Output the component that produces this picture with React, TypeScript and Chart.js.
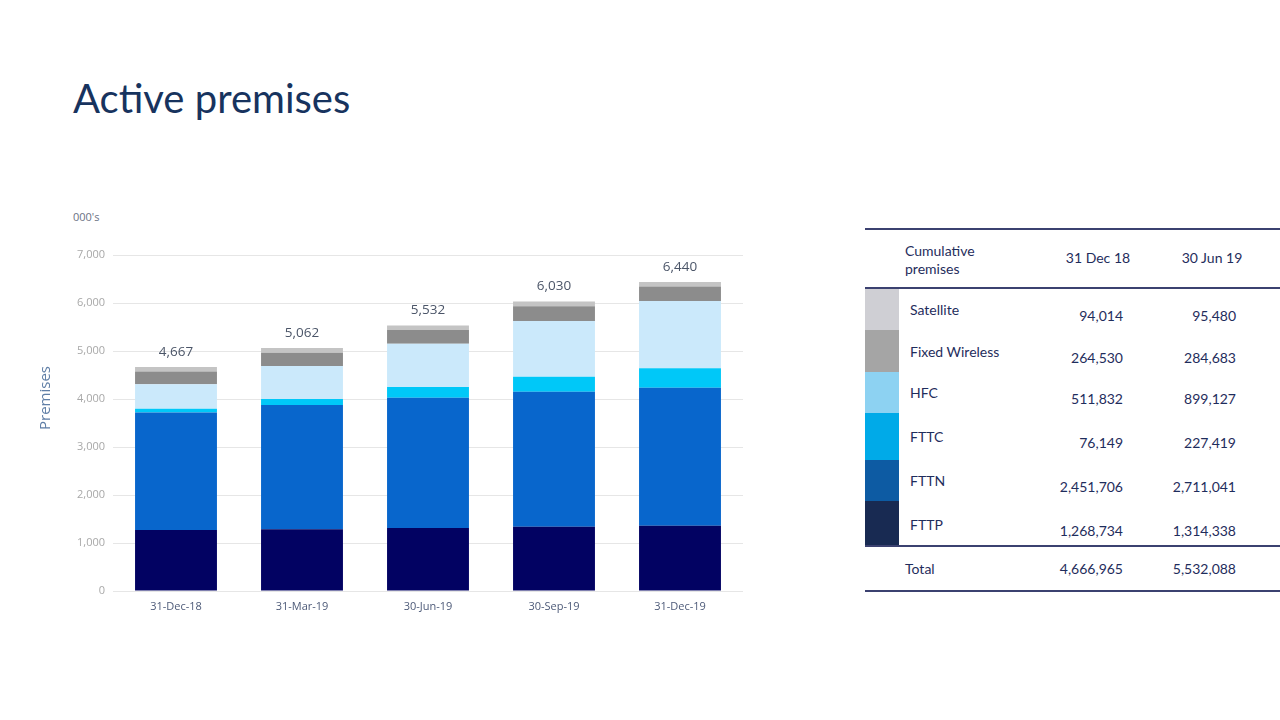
import React, { useEffect, useRef } from "react";
import { Chart, registerables } from "chart.js";

Chart.register(...registerables);

const categories = ["31-Dec-18", "31-Mar-19", "30-Jun-19", "30-Sep-19", "31-Dec-19"];
const fttp = [1269, 1285, 1314, 1340, 1361];
const fttn = [2452, 2590, 2711, 2813, 2875];
const fttc = [76, 125, 227, 312, 403];
const hfc = [512, 687, 899, 1160, 1403];
const fixedWireless = [265, 278, 285, 308, 302];
const satellite = [94, 97, 95, 97, 96];
const totals = [4667, 5062, 5532, 6030, 6440];
const yTicks = [0, 1000, 2000, 3000, 4000, 5000, 6000, 7000];

const tableTitle = ["Cumulative", "premises"];
const tableColumns = ["31 Dec 18", "30 Jun 19"];
const tableRows = ["Satellite", "Fixed Wireless", "HFC", "FTTC", "FTTN", "FTTP"];
const tableDec18 = ["94,014", "264,530", "511,832", "76,149", "2,451,706", "1,268,734"];
const tableJun19 = ["95,480", "284,683", "899,127", "227,419", "2,711,041", "1,314,338"];
const tableTotals = ["4,666,965", "5,532,088"];

const seriesNames = ["FTTP", "FTTN", "FTTC", "HFC", "Fixed Wireless", "Satellite"];
const seriesColors = ["#020262", "#0866cc", "#00c8f8", "#cbe9fb", "#8c8c8c", "#c4c4c4"];
const swatchColors = ["#cfcfd4", "#a5a5a5", "#8dd2f2", "#00aae8", "#0d5ba3", "#182a52"];
const rowHeights = [41, 42, 41, 47, 41, 46];

const CHART_FONT = "'Open Sans', sans-serif";
const TEXT_NAVY = "#1f2d5c";

const totalsPlugin = {
  id: "totalsPlugin",
  afterDatasetsDraw(chart: any) {
    const ctx = chart.ctx;
    const x = chart.scales.x;
    const y = chart.scales.y;
    ctx.save();
    ctx.font = `13.5px ${CHART_FONT}`;
    ctx.fillStyle = "#4b5568";
    ctx.textAlign = "center";
    ctx.textBaseline = "middle";
    totals.forEach((t, i) => {
      ctx.fillText(t.toLocaleString("en-US"), x.getPixelForValue(i), y.getPixelForValue(t) - 15);
    });
    // axis title
    ctx.translate(16, 198);
    ctx.rotate(-Math.PI / 2);
    ctx.font = `15px ${CHART_FONT}`;
    ctx.fillStyle = "#5f7ea6";
    ctx.fillText("Premises", 0, 0);
    ctx.restore();
  },
};

function StackedChart() {
  const ref = useRef<HTMLCanvasElement | null>(null);
  useEffect(() => {
    if (!ref.current) return;
    const data = [fttp, fttn, fttc, hfc, fixedWireless, satellite];
    const chart = new Chart(ref.current, {
      type: "bar",
      data: {
        labels: categories,
        datasets: data.map((d, i) => ({
          label: seriesNames[i],
          data: d,
          backgroundColor: seriesColors[i],
          borderWidth: 0,
          barPercentage: 0.65,
          categoryPercentage: 1,
        })),
      },
      options: {
        responsive: false,
        animation: false,
        layout: { padding: { top: 55, right: 17, left: 0, bottom: 0 } },
        plugins: { legend: { display: false }, tooltip: { enabled: false }, title: { display: false } },
        scales: {
          x: {
            stacked: true,
            grid: { display: false, drawTicks: false },
            border: { display: false },
            ticks: { color: "#4d5a78", font: { family: CHART_FONT, size: 11 }, padding: 9 },
            afterFit(scale: any) {
              scale.height = 39;
            },
          },
          y: {
            stacked: true,
            min: 0,
            max: 7000,
            afterBuildTicks(scale: any) {
              scale.ticks = yTicks.map((v) => ({ value: v }));
            },
            grid: { color: "#e6e6e6", lineWidth: 1, drawTicks: false },
            border: { display: false },
            ticks: {
              color: "#a8a8a8",
              font: { family: CHART_FONT, size: 11 },
              padding: 8,
              callback: (v: any) => Number(v).toLocaleString("en-US"),
            },
            afterFit(scale: any) {
              scale.width = 83;
            },
          },
        },
      },
      plugins: [totalsPlugin],
    });
    return () => chart.destroy();
  }, []);
  return <canvas ref={ref} width={730} height={430} style={{ position: "absolute", left: 30, top: 200 }} />;
}

function DataTable() {
  const lineColor = "#3b4170";
  let top = 289;
  const rows = tableRows.map((name, i) => {
    const h = rowHeights[i];
    const rowTop = top;
    top += h;
    return (
      <div key={name} style={{ position: "absolute", left: 0, top: rowTop, width: 415, height: h }}>
        <div style={{ position: "absolute", left: 0, top: 0, width: 34, height: h, background: swatchColors[i] }} />
        <div style={{ position: "absolute", left: 45, top: h / 2 - 7.5, lineHeight: "16px", whiteSpace: "nowrap" }}>{name}</div>
        <div style={{ position: "absolute", right: 415 - 258, top: h / 2 - 1.5, lineHeight: "16px", textAlign: "right" }}>{tableDec18[i]}</div>
        <div style={{ position: "absolute", right: 415 - 371, top: h / 2 - 1.5, lineHeight: "16px", textAlign: "right" }}>{tableJun19[i]}</div>
      </div>
    );
  });
  return (
    <div style={{ position: "absolute", left: 865, top: 0, width: 415, height: 720, fontFamily: "Lato, sans-serif", fontSize: 14, color: TEXT_NAVY }}>
      <div style={{ position: "absolute", left: 0, top: 228, width: 415, height: 2, background: lineColor }} />
      <div style={{ position: "absolute", left: 40, top: 242, lineHeight: "18px" }}>
        {tableTitle[0]}
        <br />
        {tableTitle[1]}
      </div>
      <div style={{ position: "absolute", left: 233 - 50, width: 100, textAlign: "center", top: 250, lineHeight: "16px" }}>{tableColumns[0]}</div>
      <div style={{ position: "absolute", left: 347 - 50, width: 100, textAlign: "center", top: 250, lineHeight: "16px" }}>{tableColumns[1]}</div>
      <div style={{ position: "absolute", left: 0, top: 287, width: 415, height: 2, background: lineColor }} />
      {rows}
      <div style={{ position: "absolute", left: 0, top: 545, width: 415, height: 2, background: lineColor }} />
      <div style={{ position: "absolute", left: 40, top: 561, lineHeight: "16px" }}>Total</div>
      <div style={{ position: "absolute", right: 415 - 258, top: 561, lineHeight: "16px" }}>{tableTotals[0]}</div>
      <div style={{ position: "absolute", right: 415 - 371, top: 561, lineHeight: "16px" }}>{tableTotals[1]}</div>
      <div style={{ position: "absolute", left: 0, top: 590, width: 415, height: 2, background: lineColor }} />
    </div>
  );
}

export default function App() {
  return (
    <div style={{ position: "absolute", left: 0, top: 0, width: 1280, height: 720, overflow: "hidden", background: "#ffffff" }}>
      <div
        style={{
          position: "absolute",
          left: 73,
          top: 78,
          fontFamily: "Lato, sans-serif",
          fontSize: 40,
          lineHeight: "40px",
          color: "#17335e",
          whiteSpace: "nowrap",
        }}
      >
        Active premises
      </div>
      <div style={{ position: "absolute", left: 73, top: 210, fontFamily: CHART_FONT, fontSize: 11, color: "#6b7284", lineHeight: "14px" }}>
        000's
      </div>
      <StackedChart />
      <DataTable />
    </div>
  );
}
